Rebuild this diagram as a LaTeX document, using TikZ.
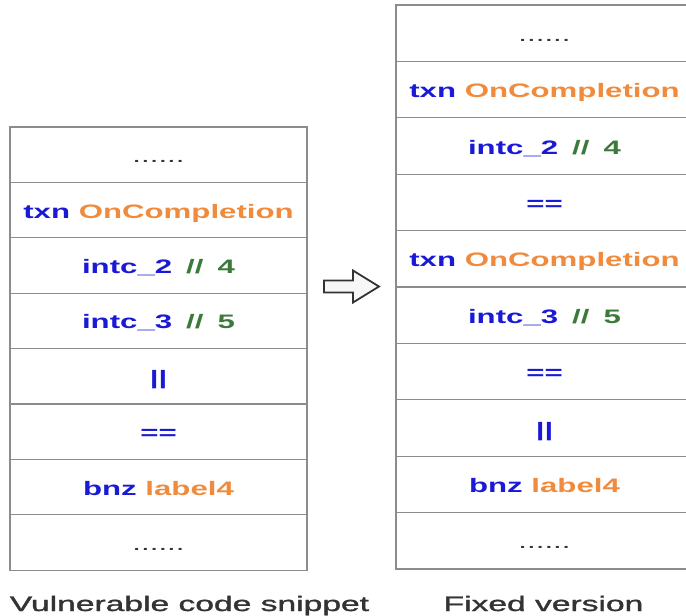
\documentclass[tikz,border=0pt]{standalone}
\usepackage{fontspec}
\setmainfont{Liberation Sans}
\newfontfamily\capfont{Liberation Sans}[FakeBold=1.2]
\usepackage{xcolor,graphicx}
\usetikzlibrary{positioning}
\definecolor{opblue}{HTML}{1A1AD6}
\definecolor{argorange}{HTML}{F08A3C}
\definecolor{numgreen}{HTML}{3B7A3B}
\definecolor{gridgray}{HTML}{8C8C8C}
\definecolor{inkgray}{HTML}{333333}
\newcommand{\stretchtext}[1]{\scalebox{1.6}[1]{#1}}
\newcommand{\opc}[1]{\textcolor{opblue}{#1}}
\newcommand{\argc}[1]{\textcolor{argorange}{#1}}
\newcommand{\numc}[1]{\textcolor{numgreen}{#1}}
\newcommand{\skipped}{\textcolor{inkgray}{\mdseries......}}
\newcommand{\gap}{\hspace{0.45em}}

\begin{document}
\begin{tikzpicture}[
  x=1pt, y=-1pt,
  node distance=0pt,
  cell/.style={rectangle, draw=gridgray, line width=1.3pt, minimum width=297pt,
               inner sep=0pt, outer sep=0pt, text height=19pt, text depth=3pt,
               font=\fontsize{19.5}{22}\selectfont\bfseries},
  vcell/.style={cell, minimum height=55.4pt},
  fcell/.style={cell, minimum height=56.4pt},
  caption/.style={inner sep=0pt, anchor=base, text=inkgray, font=\fontsize{21}{24}\selectfont\capfont},
  hollow/.style={draw=inkgray, fill=black!3, line width=1.8pt, line join=miter}
]
  \useasboundingbox (0,0) rectangle (686,616);
  % vulnerable snippet
  \node[vcell, anchor=north west] (vdots1) at (10,127) {\stretchtext{\skipped}};
  \node[vcell, below=of vdots1] (vtxn) {\stretchtext{\opc{txn} \argc{OnCompletion}}};
  \node[vcell, below=of vtxn] (vint2) {\stretchtext{\opc{intc\_2}\gap\numc{//}\gap\numc{4}}};
  \node[vcell, below=of vint2] (vint3) {\stretchtext{\opc{intc\_3}\gap\numc{//}\gap\numc{5}}};
  \node[vcell, below=of vint3] (vor) {\stretchtext{\opc{||}}};
  \node[vcell, below=of vor] (veq) {\stretchtext{\opc{==}}};
  \node[vcell, below=of veq] (vbnz) {\stretchtext{\opc{bnz} \argc{label4}}};
  \node[vcell, below=of vbnz] (vdots2) {\stretchtext{\skipped}};
  % fixed version
  \node[fcell, anchor=north west] (fdots1) at (396,5) {\stretchtext{\skipped}};
  \node[fcell, below=of fdots1] (ftxn1) {\stretchtext{\opc{txn} \argc{OnCompletion}}};
  \node[fcell, below=of ftxn1] (fint2) {\stretchtext{\opc{intc\_2}\gap\numc{//}\gap\numc{4}}};
  \node[fcell, below=of fint2] (feq1) {\stretchtext{\opc{==}}};
  \node[fcell, below=of feq1] (ftxn2) {\stretchtext{\opc{txn} \argc{OnCompletion}}};
  \node[fcell, below=of ftxn2] (fint3) {\stretchtext{\opc{intc\_3}\gap\numc{//}\gap\numc{5}}};
  \node[fcell, below=of fint3] (feq2) {\stretchtext{\opc{==}}};
  \node[fcell, below=of feq2] (for) {\stretchtext{\opc{||}}};
  \node[fcell, below=of for] (fbnz) {\stretchtext{\opc{bnz} \argc{label4}}};
  \node[fcell, below=of fbnz] (fdots2) {\stretchtext{\skipped}};
  % hollow arrow between the two
  \draw[hollow] (324,280.5) -- (353,280.5) -- (353,270.5) -- (379,286.5)
    -- (353,302.5) -- (353,292.5) -- (324,292.5) -- cycle;
  \node[caption] (vcap) at (189.5,611) {\stretchtext{Vulnerable code snippet}};
  \node[caption] (fcap) at (543.5,611) {\stretchtext{Fixed version}};
\end{tikzpicture}
\end{document}
